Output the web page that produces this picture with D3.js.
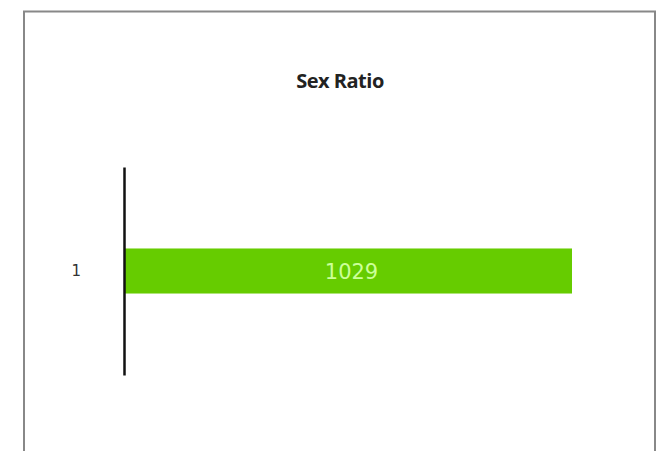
<!DOCTYPE html>
<html lang="en">
<head>
  <meta charset="UTF-8">
  <title>Sex Ratio</title>
  <style>
    body { margin: 0; background: #fff; }
    .yAxis .tick text { font-size: 15px; font-family: "DejaVu Sans", sans-serif; fill: #333; }
  </style>
</head>
<body>
<div id="chart"></div>
<script src="https://cdn.jsdelivr.net/npm/d3@7"></script>
<script>
let titleText = 'Sex Ratio'
let categories = ['1']
let values = [1029]

let width = 661
let height = 451
let svg = d3.select('#chart').append('svg').attr('width', width).attr('height', height)

// 外框 (bottom edge is off the picture)
svg.append('path')
  .attr('d', 'M24,' + height + ' L24,11.5 L655,11.5 L655,' + height)
  .attr('fill', 'none')
  .attr('stroke', '#888')
  .attr('stroke-width', 2)

svg.append('text').text(titleText)
  .attr('x', 340).attr('y', 88)
  .attr('text-anchor', 'middle')
  .attr('style', 'font-family: "Open Sans", sans-serif; font-weight: 700; font-size: 20px; fill: #222; letter-spacing: -0.5px;')

// 比例尺
let xlinear = d3.scaleLinear().domain([0, d3.max(values)]).range([125, 572])
let yband = d3.scaleBand().domain(categories).range([167, 375]).padding(0.644)

// bars
svg.selectAll('rect.bar').data(values).enter().append('rect')
  .attr('class', 'bar')
  .attr('x', xlinear(0))
  .attr('y', (d, i) => yband(categories[i]))
  .attr('width', d => xlinear(d) - xlinear(0))
  .attr('height', yband.bandwidth())
  .attr('fill', '#66cc00')

svg.selectAll('text.val').data(values).enter().append('text')
  .attr('class', 'val')
  .attr('x', d => (xlinear(0) + xlinear(d)) / 2 + 3)
  .attr('y', (d, i) => yband(categories[i]) + yband.bandwidth() / 2)
  .attr('dy', '0.36em')
  .attr('text-anchor', 'middle')
  .attr('style', 'font-family: "DejaVu Sans", sans-serif; font-size: 21px; fill: #ccff99;')
  .text(d => d)

// 纵坐标
let yAxis = d3.axisLeft(yband).tickSize(0).tickPadding(43)
let gy = svg.append('g').attr('class', 'yAxis').attr('transform', 'translate(124,0)').call(yAxis)
gy.select('.domain').attr('stroke', '#111').attr('stroke-width', 2.5)
</script>
</body>
</html>
